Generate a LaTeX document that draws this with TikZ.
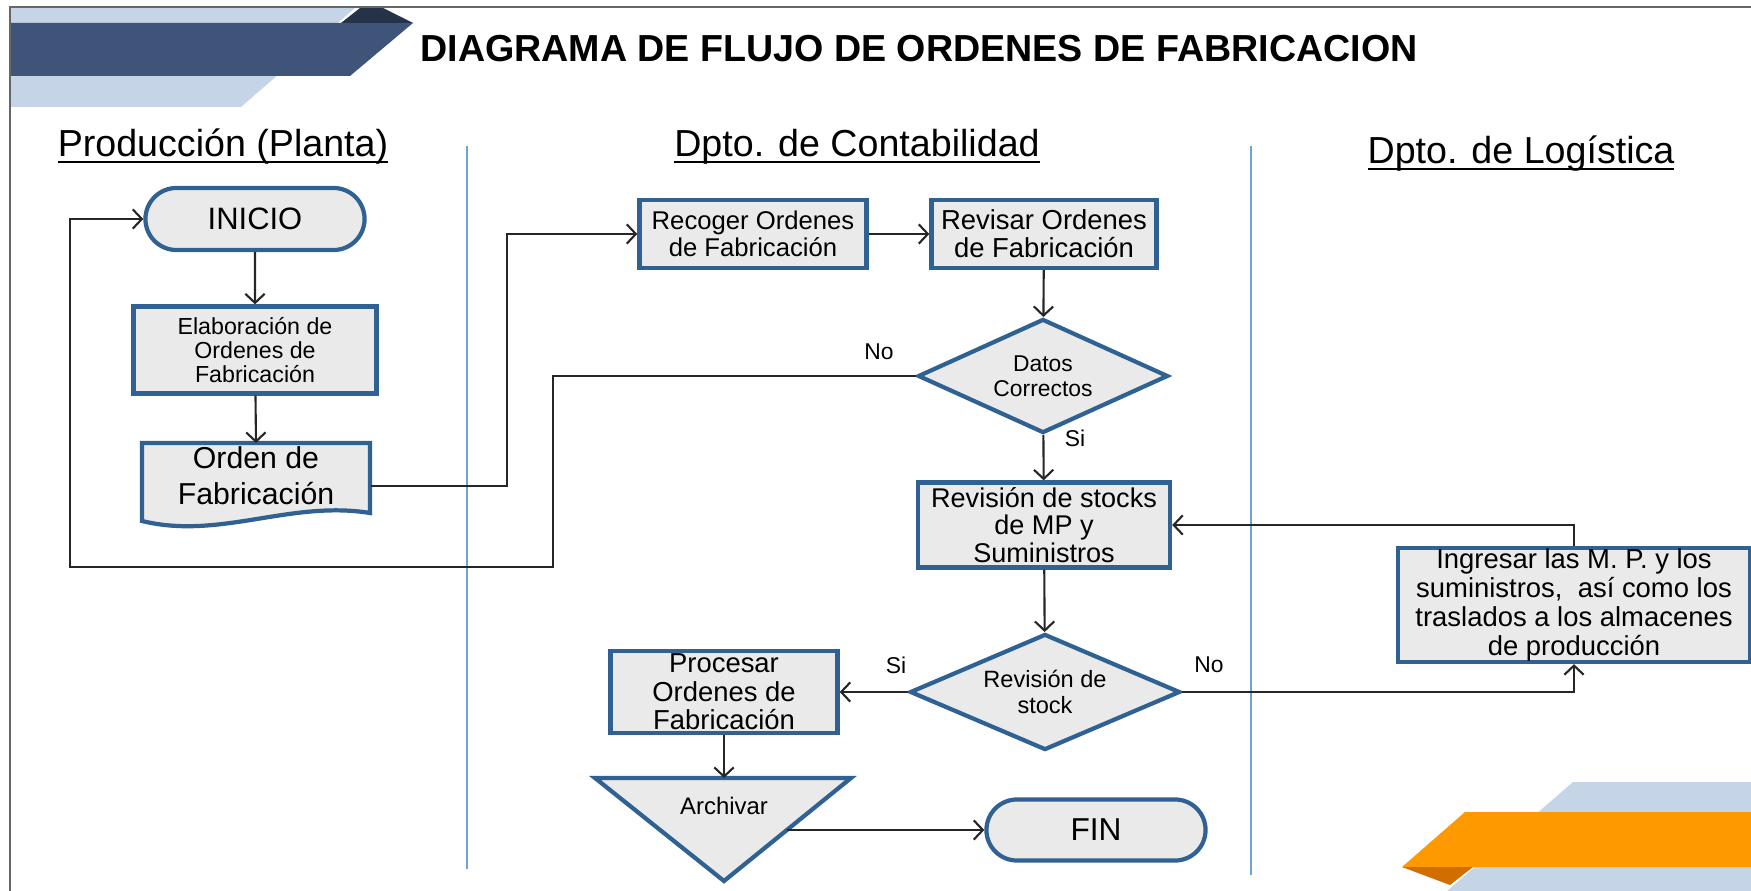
\documentclass[tikz,border=0pt]{standalone}
\usepackage{fontspec}
\setmainfont{Liberation Sans}
\usetikzlibrary{positioning, arrows, arrows.meta, shapes.geometric, shapes.misc}

\definecolor{bandlight}{HTML}{C6D4E7}
\definecolor{bandnavy}{HTML}{3F5479}
\definecolor{banddark}{HTML}{263247}
\definecolor{bandorange}{HTML}{FF9900}
\definecolor{bandrust}{HTML}{D06F00}
\definecolor{boxblue}{HTML}{2F6192}
\definecolor{boxfill}{HTML}{EAEAEA}
\definecolor{laneblue}{HTML}{6FA3D8}

% underlined lane title, line close to the baseline
\newcommand{\lanetitle}[1]{\setbox0\hbox{#1}\rlap{\vrule width\wd0 height -1.1pt depth 1.6pt}\box0}

\begin{document}
\begin{tikzpicture}[x=0.01cm,y=-0.01cm,>={Straight Barb[length=2.6pt,width=5.5pt]}]
    \tikzstyle{box}=[rectangle,draw=boxblue,line width=1.2pt,fill=boxfill,inner sep=0pt,align=center]
    \tikzstyle{term}=[rounded rectangle,draw=boxblue,line width=1.2pt,fill=boxfill,inner sep=0pt]
    \tikzstyle{decision}=[diamond,aspect=2.2,draw=boxblue,line width=1.2pt,fill=boxfill,inner sep=0pt,align=center]
    \tikzstyle{docshape}=[draw=boxblue,line width=1.2pt,fill=boxfill]
    \tikzstyle{flow}=[->,line width=0.6pt,draw=black!85]
    \tikzstyle{answer}=[font=\fontsize{6.5}{7}\selectfont]
    \tikzstyle{lane}=[anchor=base,font=\fontsize{10.7}{12}\selectfont]

    \useasboundingbox (0,0) rectangle (1751,891);

    % bands
    \fill[bandlight] (10,8) -- (355,8) -- (241,107) -- (10,107) -- cycle;
    \fill[bandnavy] (10,23) -- (413,23) -- (350,76) -- (10,76) -- cycle;
    \fill[banddark] (341,23) -- (360,8) -- (383,8) -- (413,23) -- cycle;
    \fill[bandlight] (1573,782) -- (1751,782) -- (1751,891) -- (1447,891) -- cycle;
    \fill[bandorange] (1465,812) -- (1751,812) -- (1751,867) -- (1402,867) -- cycle;
    \fill[bandrust] (1402,867) -- (1473,867) -- (1450,885) -- cycle;
    \draw[black!60,line width=0.4pt] (10,891) -- (10,7) -- (1751,7);

    \node (title) at (919,49) [font=\bfseries\fontsize{10.7}{12}\selectfont] {DIAGRAMA DE FLUJO DE ORDENES DE FABRICACION};

    % lanes
    \node (planta)[lane] at (223,157) {\lanetitle{Producción (Planta)}};
    \node (conta)[lane] at (857,157) {\lanetitle{Dpto. de Contabilidad}};
    \node (logis)[lane] at (1521,164) {\lanetitle{Dpto. de Logística}};
    \draw[laneblue,line width=0.5pt] (467,146) -- (467,869);
    \draw[laneblue,line width=0.5pt] (1251,146) -- (1251,875);

    % produccion
    \node (inicio)[term,minimum width=2.19cm,minimum height=0.62cm,font=\fontsize{8.8}{9}\selectfont] at (255,219) {INICIO};
    \node (elab)[box,minimum width=2.43cm,minimum height=0.87cm,font=\fontsize{6.6}{6.8}\selectfont] at (255,350) {Elaboración de\\Ordenes de\\Fabricación};
    \draw[docshape] (142,443) -- (370,443) -- (370,513) .. controls (290,500) and (220,540) .. (142,521) -- cycle;
    \node (orden)[minimum width=2.28cm,inner sep=0pt,align=center,font=\fontsize{8.6}{10.2}\selectfont] at (256,476) {Orden de\\Fabricación};

    % contabilidad
    \node (recoger)[box,minimum width=2.27cm,minimum height=0.68cm,font=\fontsize{7.3}{7.6}\selectfont] at (753,234) {Recoger Ordenes\\de Fabricación};
    \node (revisar)[box,minimum width=2.25cm,minimum height=0.68cm,font=\fontsize{7.8}{8}\selectfont] at (1044,234) {Revisar Ordenes\\de Fabricación};
    \node (datos)[decision,minimum width=2.5cm,minimum height=1.14cm,font=\fontsize{6.5}{7}\selectfont] at (1043,376) {Datos\\Correctos};
    \node (stocks)[box,minimum width=2.52cm,minimum height=0.85cm,font=\fontsize{7.7}{7.9}\selectfont] at (1044,525) {Revisión de stocks\\de MP y\\Suministros};
    \node (revstock)[decision,minimum width=2.7cm,minimum height=1.16cm,font=\fontsize{6.7}{7.2}\selectfont] at (1045,692) {Revisión de\\stock};
    \node (procesar)[box,minimum width=2.27cm,minimum height=0.82cm,font=\fontsize{7.8}{8.1}\selectfont] at (724,692) {Procesar\\Ordenes de\\Fabricación};
    \draw[docshape] (595,778) -- (851,778) -- (724,881) -- cycle;
    \node (archivar)[font=\fontsize{6.8}{7}\selectfont] at (724,806) {Archivar};
    \coordinate (archtop) at (724,778);
    \coordinate (archright) at (787,830);
    \node (fin)[term,minimum width=2.19cm,minimum height=0.61cm,font=\fontsize{9}{9}\selectfont] at (1096,830) {FIN};

    % logistica
    \node (ingresar)[box,minimum width=3.52cm,minimum height=1.14cm,font=\fontsize{7.8}{8.2}\selectfont] at (1574,605) {Ingresar las M. P. y los\\suministros,~ así como los\\traslados a los almacenes\\de producción};

    % flujo
    \draw[flow] (inicio) -- (elab);
    \draw[flow] (elab) -- (orden.north |- 0,443);
    \draw[flow] ([yshift=-0.1cm]orden.east) -| (507,400) |- (recoger.west);
    \draw[flow] (recoger) -- (revisar);
    \draw[flow] (revisar) -- (datos);
    \draw[flow] (datos.west) -| (553,567) -- (70,567) |- (inicio.west);
    \draw[flow] (datos) -- (stocks);
    \draw[flow] (stocks) -- (revstock);
    \draw[flow] (revstock) -- (procesar);
    \draw[flow] (revstock.east) -| (ingresar.south);
    \draw[flow] (ingresar.north) |- (stocks.east);
    \draw[flow] (procesar) -- (archtop);
    \draw[flow] (archright) -- (fin);

    \node (no1)[answer] at (879,352) {No};
    \node (si1)[answer] at (1075,438) {Si};
    \node (si2)[answer] at (896,665) {Si};
    \node (no2)[answer] at (1209,665) {No};
\end{tikzpicture}
\end{document}
